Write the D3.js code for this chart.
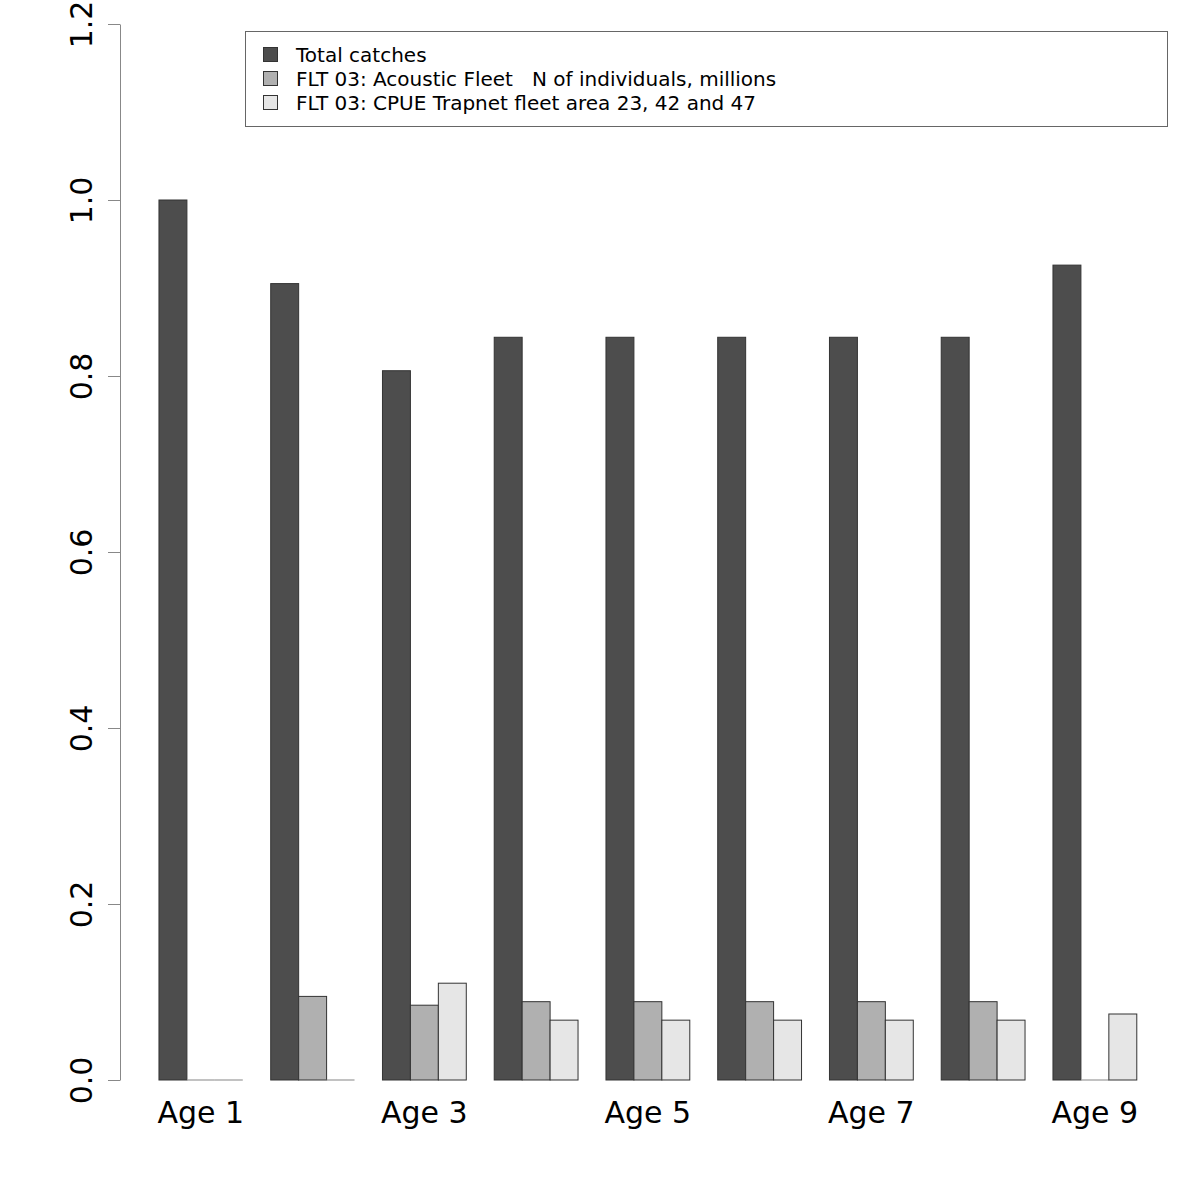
<!DOCTYPE html>
<html><head><meta charset="utf-8">
<script src="https://cdn.jsdelivr.net/npm/d3@7/dist/d3.min.js"></script>
<style>body{margin:0;background:#fff}svg{display:block}</style>
</head><body>
<svg id="c" width="1200" height="1200"></svg>
<script>
const ages = ["Age 1","Age 2","Age 3","Age 4","Age 5","Age 6","Age 7","Age 8","Age 9"];
const shownLabels = ["Age 1","Age 3","Age 5","Age 7","Age 9"];
const seriesNames = ["Total catches","FLT 03: Acoustic Fleet   N of individuals, millions","FLT 03: CPUE Trapnet fleet area 23, 42 and 47"];
const totalCatches = [1.0, 0.905, 0.806, 0.844, 0.844, 0.844, 0.844, 0.844, 0.926];
const acoustic = [0, 0.095, 0.085, 0.089, 0.089, 0.089, 0.089, 0.089, 0];
const trapnet = [0, 0, 0.110, 0.068, 0.068, 0.068, 0.068, 0.068, 0.075];
const colors = ["#4d4d4d","#b0b0b0","#e6e6e6"];
const yTicks = [0, 0.2, 0.4, 0.6, 0.8, 1.0, 1.2];

const series = [totalCatches, acoustic, trapnet];
const svg = d3.select("#c");
const font = "DejaVu Sans, sans-serif";

const y = d3.scaleLinear().domain([0, 1.2]).range([1080, 24]);
const x0 = d3.scaleBand().domain(ages).range([145, 1150.75]).paddingInner(0.25).paddingOuter(0.125);
const x1 = d3.scaleBand().domain([0,1,2]).range([0, x0.bandwidth()]);

const g = svg.append("g");
ages.forEach((a, i) => {
  series.forEach((s, j) => {
    const v = s[i];
    const bx = x0(a) + x1(j);
    if (v === 0) {
      g.append("line")
        .attr("x1", bx).attr("x2", bx + x1.bandwidth())
        .attr("y1", y(0)).attr("y2", y(0))
        .attr("stroke", "#999").attr("stroke-width", 1.2);
    } else {
      g.append("rect")
        .attr("x", bx)
        .attr("y", y(v))
        .attr("width", x1.bandwidth())
        .attr("height", y(0) - y(v))
        .attr("fill", colors[j])
        .attr("stroke", "#333")
        .attr("stroke-width", 1);
    }
  });
});

// y axis
const ax = svg.append("g").attr("transform", "translate(120,0)")
  .call(d3.axisLeft(y).tickValues(yTicks).tickFormat(d3.format(".1f")).tickSize(12).tickSizeOuter(0));
ax.select(".domain").attr("stroke", "#888");
ax.selectAll(".tick line").attr("stroke", "#888");
ax.selectAll(".tick text").remove();
ax.selectAll(".tick").append("text")
  .attr("transform", "translate(-28,0) rotate(-90)")
  .attr("text-anchor", "middle")
  .attr("fill", "#000")
  .style("font-family", font).style("font-size", "30px")
  .text(d => d3.format(".1f")(d));

// x labels
svg.append("g").selectAll("text").data(shownLabels).join("text")
  .attr("x", d => x0(d) + x0.bandwidth()/2)
  .attr("y", 1123)
  .attr("text-anchor", "middle")
  .style("font-family", font).style("font-size", "30px")
  .text(d => d);

// legend
const lg = svg.append("g");
lg.append("rect").attr("x", 245.5).attr("y", 31.5).attr("width", 922).attr("height", 95)
  .attr("fill", "#fff").attr("stroke", "#666");
seriesNames.forEach((n, i) => {
  const yy = 55 + i * 24;
  lg.append("rect").attr("x", 263.5).attr("y", yy - 7.5).attr("width", 14).attr("height", 14)
    .attr("fill", colors[i]).attr("stroke", "#333");
  lg.append("text").attr("x", 296).attr("y", yy + 7)
    .style("font-family", font).style("font-size", "20px")
    .style("white-space","pre")
    .text(n);
});
</script>
</body></html>
